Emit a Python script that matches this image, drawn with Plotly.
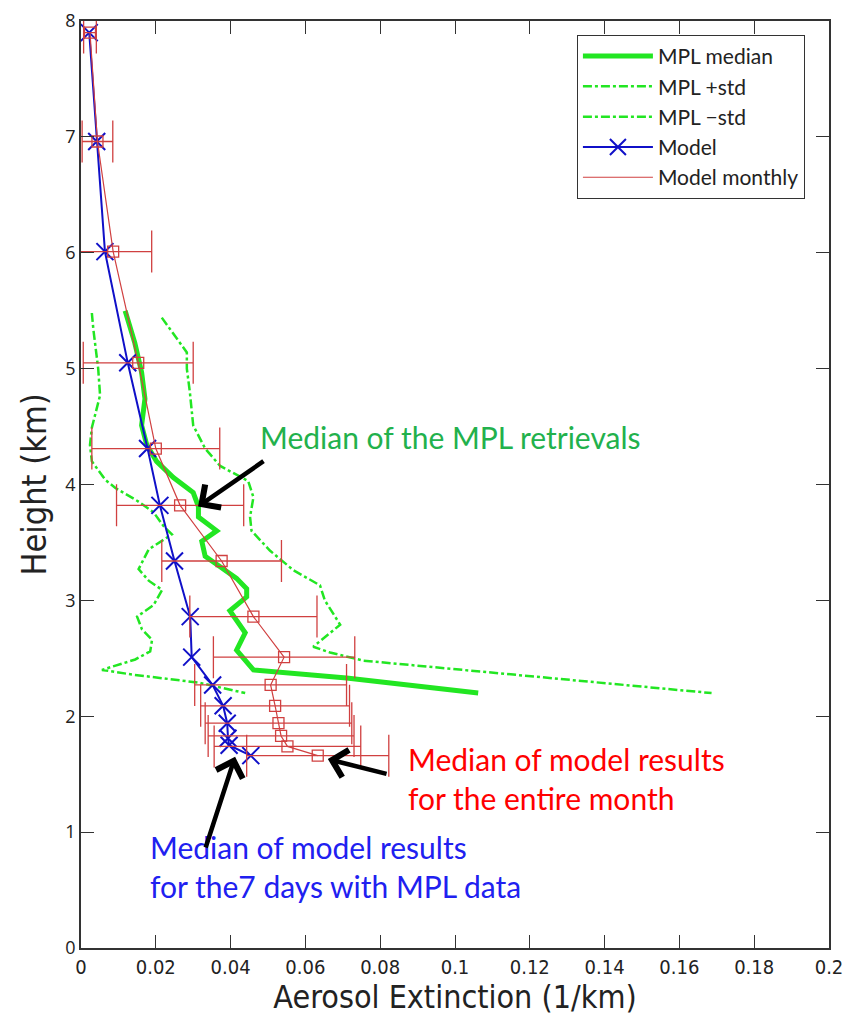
import plotly.graph_objects as go

# ---------------- data ----------------
# MPL median retrieval
mpl_med_x = [0.0118, 0.0144, 0.0162, 0.0171, 0.0162, 0.0176, 0.0202, 0.0247, 0.0300, 0.0314,
             0.0314, 0.0363, 0.0323, 0.0332, 0.0372, 0.0416, 0.0443, 0.0443, 0.0398, 0.0439,
             0.0416, 0.0461, 0.0710, 0.0853, 0.1062]
mpl_med_y = [5.50, 5.22, 4.97, 4.74, 4.51, 4.34, 4.20, 4.06, 3.93, 3.81,
             3.72, 3.60, 3.51, 3.38, 3.29, 3.19, 3.10, 3.03, 2.91, 2.72,
             2.57, 2.40, 2.33, 2.28, 2.20]

# MPL + std
mpl_plus_x = [0.0216, 0.0256, 0.0283, 0.0283, 0.0291, 0.0300, 0.0332, 0.0372, 0.0447, 0.0461,
              0.0452, 0.0456, 0.0505, 0.0568, 0.0639, 0.0652, 0.0693, 0.0621, 0.0666, 0.0755,
              0.1686]
mpl_plus_y = [5.44, 5.26, 5.14, 5.00, 4.80, 4.51, 4.31, 4.16, 4.03, 3.89,
              3.72, 3.60, 3.43, 3.26, 3.13, 3.00, 2.79, 2.60, 2.55, 2.48,
              2.20]

# MPL - std
mpl_minus_x = [0.0029, 0.0033, 0.0046, 0.0051, 0.0029, 0.0024, 0.0029, 0.0065, 0.0092, 0.0150,
               0.0194, 0.0221, 0.0243, 0.0181, 0.0154, 0.0181, 0.0217, 0.0194, 0.0150, 0.0163,
               0.0190, 0.0185, 0.0145, 0.0056, 0.0136, 0.0234, 0.0315, 0.0439]
mpl_minus_y = [5.48, 5.34, 5.00, 4.77, 4.49, 4.34, 4.20, 4.04, 3.97, 3.86,
               3.76, 3.64, 3.57, 3.44, 3.27, 3.17, 3.09, 2.96, 2.86, 2.75,
               2.66, 2.56, 2.49, 2.40, 2.36, 2.32, 2.29, 2.20]

# Model (7 days with MPL data)
model_x = [0.0022, 0.0042, 0.0064, 0.0125, 0.0178, 0.0211, 0.0250, 0.0292, 0.0296, 0.0352,
           0.0380, 0.0391, 0.0393, 0.0396, 0.0454]
model_y = [7.90, 6.96, 6.01, 5.05, 4.31, 3.82, 3.34, 2.86, 2.51, 2.27,
           2.09, 1.94, 1.81, 1.75, 1.66]

# Model monthly median with spread
monthly_x = [0.0024, 0.0044, 0.0086, 0.0153, 0.0200, 0.0265, 0.0376, 0.0461, 0.0543, 0.0507,
             0.0519, 0.0528, 0.0535, 0.0552, 0.0633]
monthly_y = [7.90, 6.96, 6.01, 5.05, 4.31, 3.82, 3.34, 2.86, 2.51, 2.27,
             2.09, 1.94, 1.83, 1.74, 1.66]
monthly_err = [0.0017, 0.0041, 0.0103, 0.0147, 0.0171, 0.0170, 0.0160, 0.0170, 0.0189, 0.0203,
               0.0199, 0.0196, 0.0195, 0.0196, 0.0190]

x_ticks = [0, 0.02, 0.04, 0.06, 0.08, 0.1, 0.12, 0.14, 0.16, 0.18, 0.2]
x_tick_labels = ["0", "0.02", "0.04", "0.06", "0.08", "0.1", "0.12", "0.14", "0.16", "0.18", "0.2"]
y_ticks = [0, 1, 2, 3, 4, 5, 6, 7, 8]

# ---------------- figure ----------------
GREEN = "#22e622"
BLUE = "#1010c8"
RED = "#d04040"
NARROW = "'Liberation Sans Narrow', 'DejaVu Sans Condensed', sans-serif"
TXT_FONT = "Lato, 'Open Sans', sans-serif"

fig = go.Figure()

fig.add_trace(go.Scatter(x=mpl_med_x, y=mpl_med_y, mode="lines", name="MPL median",
                         line=dict(color=GREEN, width=5)))
fig.add_trace(go.Scatter(x=mpl_plus_x, y=mpl_plus_y, mode="lines", name="MPL +std",
                         line=dict(color=GREEN, width=2.5, dash="dashdot")))
fig.add_trace(go.Scatter(x=mpl_minus_x, y=mpl_minus_y, mode="lines", name="MPL \u2212std",
                         line=dict(color=GREEN, width=2.5, dash="dashdot")))
fig.add_trace(go.Scatter(x=model_x, y=model_y, mode="lines+markers", name="Model",
                         line=dict(color=BLUE, width=2),
                         marker=dict(symbol="x-thin", size=17, color=BLUE,
                                     line=dict(color=BLUE, width=2))))
fig.add_trace(go.Scatter(x=monthly_x, y=monthly_y, mode="lines", name="Model monthly",
                         line=dict(color=RED, width=1.2),
                         error_x=dict(type="data", array=monthly_err, symmetric=True,
                                      color=RED, thickness=1.3, width=21)))
fig.add_trace(go.Scatter(x=monthly_x, y=monthly_y, mode="markers", showlegend=False,
                         marker=dict(symbol="square-open", size=11, color=RED,
                                     line=dict(color=RED, width=1.3))))

# text annotations
fig.add_annotation(x=0.0473, y=4.41, xref="x", yref="y", text="Median of the MPL retrievals",
                   showarrow=False, xanchor="left", yanchor="middle",
                   font=dict(family=TXT_FONT, size=30, color="#22b14c"))
fig.add_annotation(x=0.0870, y=1.46, xref="x", yref="y",
                   text="Median of model results<br>for the entire month",
                   showarrow=False, xanchor="left", yanchor="middle", align="left",
                   font=dict(family=TXT_FONT, size=30, color="#ff0000"))
fig.add_annotation(x=0.0180, y=0.70, xref="x", yref="y",
                   text="Median of model results<br>for the7 days with MPL data",
                   showarrow=False, xanchor="left", yanchor="middle", align="left",
                   font=dict(family=TXT_FONT, size=30, color="#2020f0"))

# arrows
for (hx, hy, tx, ty) in [(0.0313, 3.81, 0.0492, 4.21),
                         (0.0660, 1.63, 0.0821, 1.50),
                         (0.0412, 1.65, 0.0332, 0.855)]:
    fig.add_annotation(x=hx, y=hy, ax=tx, ay=ty, xref="x", yref="y", axref="x", ayref="y",
                       text="", showarrow=True, arrowhead=4, arrowsize=1.2, arrowwidth=4.5,
                       arrowcolor="black")

fig.update_xaxes(range=[0, 0.2], tickvals=x_ticks, ticktext=x_tick_labels,
                 ticks="inside", ticklen=13, tickwidth=1.2, tickcolor="#333",
                 showline=True, linecolor="#333", linewidth=1.5, mirror="ticks",
                 showgrid=False, zeroline=False, automargin=False,
                 tickfont=dict(family=NARROW, size=20, color="#222"),
                 title=dict(text="Aerosol Extinction (1/km)", standoff=6,
                            font=dict(family=NARROW, size=32, color="#222")))
fig.update_yaxes(range=[0, 8], tickvals=y_ticks,
                 ticks="inside", ticklen=13, tickwidth=1.2, tickcolor="#333",
                 showline=True, linecolor="#333", linewidth=1.5, mirror="ticks",
                 showgrid=False, zeroline=False, automargin=False,
                 ticklabeloverflow="allow",
                 tickfont=dict(family="'Open Sans', sans-serif", size=18, color="#222"),
                 title=dict(text="Height (km)", standoff=8,
                            font=dict(family=NARROW, size=34, color="#222")))

fig.update_layout(
    width=846, height=1008,
    margin=dict(l=73, r=25, t=13, b=68),
    plot_bgcolor="white", paper_bgcolor="white",
    showlegend=True,
    legend=dict(x=0.663, y=0.985, xanchor="left", yanchor="top",
                bgcolor="white", bordercolor="#333", borderwidth=1,
                font=dict(family=TXT_FONT, size=21, color="#222"),
                itemwidth=70, tracegroupgap=0),
)

fig.write_html("out.html")
